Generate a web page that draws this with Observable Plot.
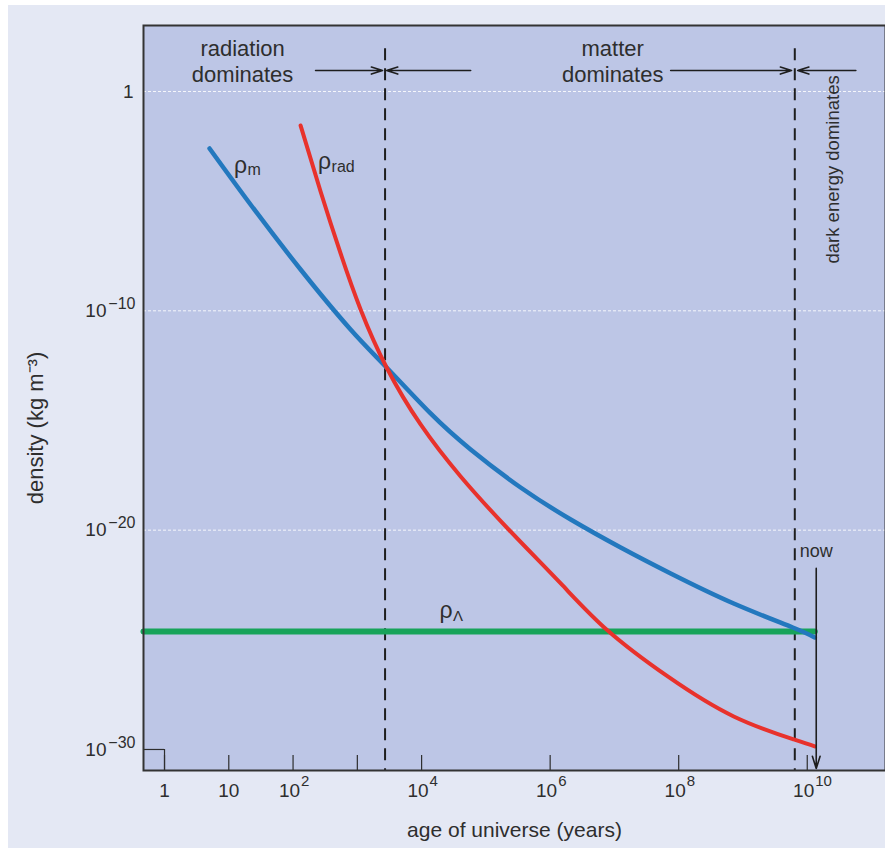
<!DOCTYPE html>
<html><head><meta charset="utf-8">
<script src="https://cdn.jsdelivr.net/npm/d3@7"></script>
<script src="https://cdn.jsdelivr.net/npm/@observablehq/plot@0.6"></script>
<style>
html,body{margin:0;padding:0;background:#fff;}
#chart svg{display:block;}
</style></head><body><div id="chart"></div>
<script>
// ---- data ----
const matterAge = [5.02, 21.8, 131, 785, 2853, 1.38e4, 5.79e4, 3.47e5, 2.09e6, 1.25e7, 7.51e7, 7.18e8, 5.95e9, 1.31e10];
const matterDensity = [2.52e-3, 7.05e-6, 7.66e-9, 1.41e-11, 2.61e-13, 2.09e-15, 4.76e-17, 8.81e-19, 3.06e-20, 1.62e-21, 1.06e-22, 4.53e-24, 3.65e-25, 1.28e-25];
const radAge = [131, 268, 549, 1124, 2853, 9650, 4.05e4, 2.26e5, 1.46e6, 7.85e6, 6.75e7, 7.18e8, 6.17e9, 1.31e10];
const radDensity = [2.82e-2, 2.76e-5, 4.11e-8, 1.15e-10, 2.61e-13, 6.57e-16, 2.80e-18, 1.07e-20, 3.70e-23, 2.66e-25, 2.13e-27, 3.19e-29, 2.86e-30, 1.37e-30];
const lambdaAge = [0.471, 1.31e10];
const lambdaDensity = [2.4e-25, 2.4e-25];
const eraBoundaries = [2700, 6.4e9];
const nowAge = 1.38e10;
const xTickValues = [1, 10, 100, 1000, 1e4, 1e6, 1e8, 1e10];
const xTickBases = ["1", "10", "10", "", "10", "10", "10", "10"];
const xTickExponents = ["", "", "2", "", "4", "6", "8", "10"];
const yTickValues = [1, 1e-10, 1e-20, 1e-30];
const yTickBases = ["1", "10", "10", "10"];
const yTickExponents = ["", "−10", "−20", "−30"];
const gridValues = [1, 1e-10, 1e-20];
const xLabel = "age of universe (years)";
const yLabel = "density (kg m⁻³)";

// ---- build tables ----
const toRows = (xs, ys) => xs.map((x, i) => ({age: x, density: ys[i]}));
const matter = toRows(matterAge, matterDensity);
const radiation = toRows(radAge, radDensity);
const lambda = toRows(lambdaAge, lambdaDensity);
const xTicks = xTickValues.map((v, i) => ({v, base: xTickBases[i], exp: xTickExponents[i]}));
const yTicks = yTickValues.map((v, i) => ({v, base: yTickBases[i], exp: yTickExponents[i]}));
const xPlain = xTicks.filter(d => d.base && !d.exp);
const xPow = xTicks.filter(d => d.exp);
const yPlain = yTicks.filter(d => !d.exp);
const yPow = yTicks.filter(d => d.exp);

const xDomain = [0.471, 1.65e11];
const yDomain = [1.1e-31, 1.02e3];

const FONT = "'Liberation Sans', Arial, Helvetica, sans-serif";
const ink = "#2e2e2e";

const chart = Plot.plot({
  width: 885,
  height: 848,
  marginLeft: 143,
  marginTop: 25,
  marginRight: 0,
  marginBottom: 78,
  style: {background: "#e4e8f4", fontFamily: FONT, color: ink, boxShadow: "inset 8px 5px 0 #ffffff"},
  x: {type: "log", domain: xDomain, axis: null},
  y: {type: "log", domain: yDomain, axis: null},
  marks: [
    Plot.frame({fill: "#bdc6e6"}),
    Plot.ruleY(gridValues, {stroke: "#ffffff", strokeDasharray: "3,2", strokeOpacity: 0.85, strokeWidth: 1}),
    // era boundaries
    Plot.ruleX(eraBoundaries, {y1: 90, y2: yDomain[0], stroke: "#1e1e1e", strokeWidth: 2, strokeDasharray: "12,8"}),
    // curves
    Plot.line(lambda, {x: "age", y: "density", stroke: "#17a35a", strokeWidth: 6}),
    Plot.line(matter, {x: "age", y: "density", stroke: "#2378be", strokeWidth: 4.5, curve: "natural"}),
    Plot.line(radiation, {x: "age", y: "density", stroke: "#e8322c", strokeWidth: 4, curve: "natural"}),
    // tick marks
    Plot.axisX({ticks: xTickValues, tickSize: -15, tickFormat: () => "", stroke: ink, strokeWidth: 1.2, label: null}),
    Plot.ruleY([1e-30], {x1: xDomain[0], x2: 1, stroke: ink, strokeWidth: 1.2}),
    Plot.ruleX([1], {y1: yDomain[0], y2: 1e-30, stroke: ink, strokeWidth: 1.2}),
    // tick labels
    Plot.text(xPlain, {x: "v", text: "base", frameAnchor: "bottom", lineAnchor: "top", dy: 13, textAnchor: "middle", fontSize: 19, fill: ink}),
    Plot.text(xPow, {x: "v", text: "base", frameAnchor: "bottom", lineAnchor: "top", dy: 13, dx: 7, textAnchor: "end", fontSize: 19, fill: ink}),
    Plot.text(xPow, {x: "v", text: "exp", frameAnchor: "bottom", lineAnchor: "top", dy: 5, dx: 8, textAnchor: "start", fontSize: 15, fill: ink}),
    Plot.text(yPlain, {y: "v", text: "base", frameAnchor: "left", lineAnchor: "middle", dx: -10, textAnchor: "end", fontSize: 19, fill: ink}),
    Plot.text(yPow, {y: "v", text: "base", frameAnchor: "left", lineAnchor: "middle", dx: -37, textAnchor: "end", fontSize: 19, fill: ink}),
    Plot.text(yPow, {y: "v", text: "exp", frameAnchor: "left", lineAnchor: "middle", dx: -8, dy: -7, textAnchor: "end", fontSize: 16, fill: ink}),
    Plot.frame({stroke: "#333", strokeWidth: 2}),
    // axis titles
    Plot.text([xLabel], {frameAnchor: "bottom", lineAnchor: "middle", textAnchor: "middle", dy: 60, fontSize: 21, fill: ink}),
    Plot.text([yLabel], {frameAnchor: "left", lineAnchor: "middle", textAnchor: "middle", dx: -108, dy: 30, rotate: -90, fontSize: 22, fill: ink}),
    // era labels + arrows
    Plot.text(["radiation\ndominates"], {x: 16.4, y: 26, fontSize: 22, lineHeight: 1.18, fill: ink}),
    Plot.text(["matter\ndominates"], {x: 9.4e6, y: 26, fontSize: 22, lineHeight: 1.18, fill: ink}),
    Plot.text(["dark energy dominates"], {x: 2.5e10, y: 2.8e-4, rotate: -90, fontSize: 18.5, fill: ink}),
    Plot.arrow([
      {a: 224, b: 2470}, {a: 5.8e4, b: 2850}, {a: 7.5e7, b: 5.7e9}, {a: 5.7e10, b: 7.1e9}
    ], {x1: "a", x2: "b", y1: 9, y2: 9, stroke: "#1e1e1e", strokeWidth: 1.6, headLength: 11, headAngle: 35}),
    // now marker
    Plot.arrow([0], {x1: nowAge, x2: nowAge, y1: 1.8e-22, y2: 1.35e-31, stroke: "#1e1e1e", strokeWidth: 1.6, headLength: 12, headAngle: 35}),
    Plot.text(["now"], {x: nowAge, y: 1.07e-21, fontSize: 18, fill: ink}),
    // curve labels
    Plot.text(["ρ"], {x: 15.2, y: 4.3e-4, fontSize: 23, fill: ink}),
    Plot.text(["m"], {x: 15.2, y: 4.3e-4, dx: 7, dy: 5, textAnchor: "start", fontSize: 16, fill: ink}),
    Plot.text(["ρ"], {x: 309, y: 6.5e-4, fontSize: 23, fill: ink}),
    Plot.text(["rad"], {x: 309, y: 6.5e-4, dx: 7, dy: 5, textAnchor: "start", fontSize: 16, fill: ink}),
    Plot.text(["ρ"], {x: 2.4e4, y: 2.2e-24, fontSize: 23, fill: ink}),
    Plot.text(["Λ"], {x: 2.4e4, y: 2.2e-24, dx: 7, dy: 6, textAnchor: "start", fontSize: 15, fill: ink})
  ]
});
document.getElementById("chart").appendChild(chart);
</script></body></html>
